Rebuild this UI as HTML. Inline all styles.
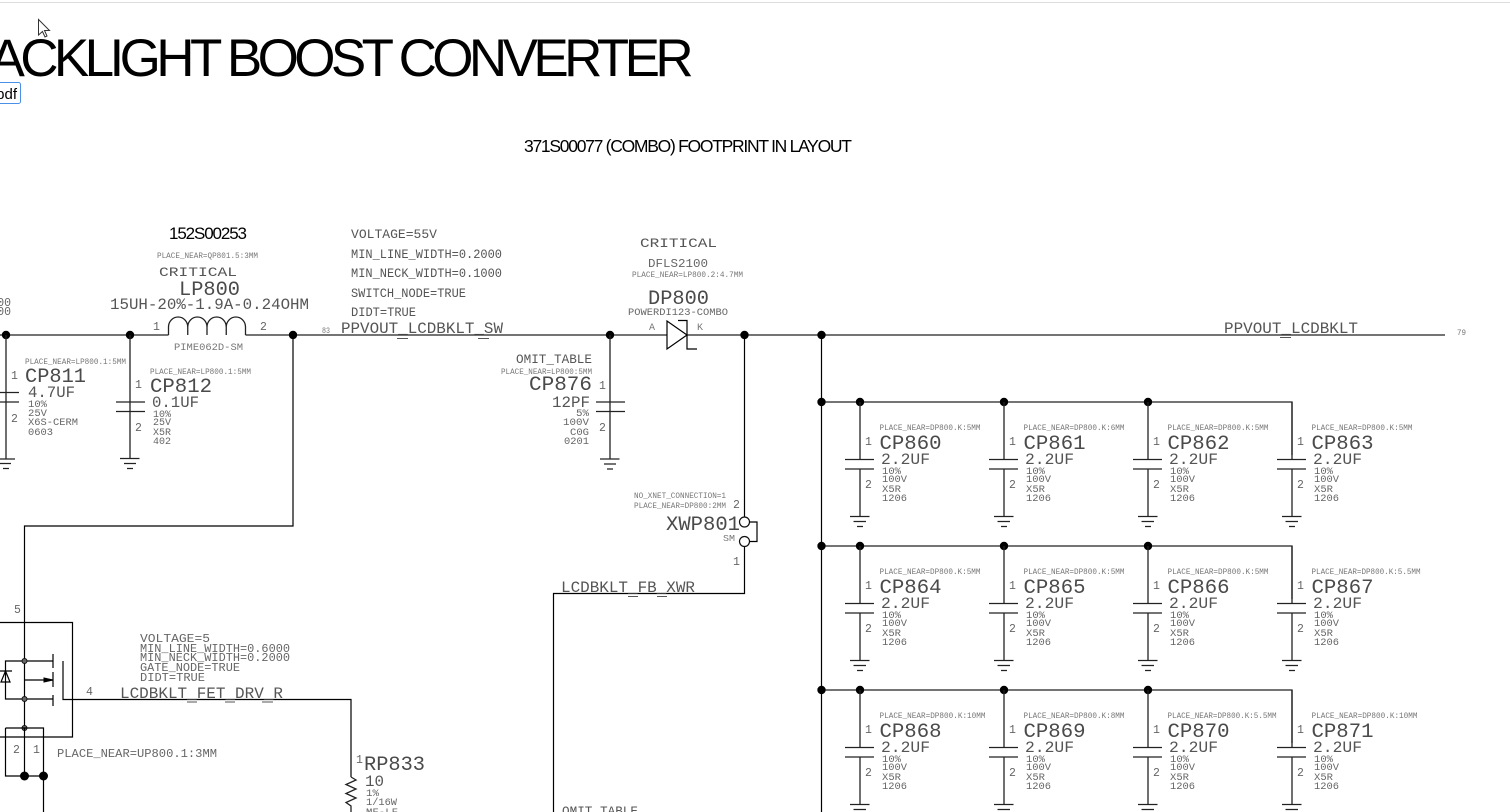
<!DOCTYPE html>
<html><head><meta charset="utf-8">
<style>
html,body{margin:0;padding:0;background:#fff;width:1510px;height:812px;overflow:hidden}
svg{display:block;position:absolute;left:0;top:0}
text{font-family:"Liberation Mono",monospace;white-space:pre}
.s{font-size:8px;fill:#777}
.t{font-size:10.5px;fill:#666}
.m{font-size:13px;fill:#555}
.v{font-size:16px;fill:#555}
.b{font-size:20.5px;fill:#4a4a4a;transform:translateY(-1px)}
.n{font-size:11.5px;fill:#666}
.h{font-family:"Liberation Sans",sans-serif;fill:#000}
.w{stroke:#222;stroke-width:1.3;fill:none}
.k{stroke:#000;stroke-width:1.2;fill:none}
.u{stroke:#555;stroke-width:1;fill:none}
</style></head><body>
<svg width="1510" height="812" viewBox="0 0 1510 812" xmlns="http://www.w3.org/2000/svg">
<defs>
<g id="c"><path class="w" d="M0 0V53M-15 57.500H14M-15 67H14M0 67V114.500M-10 114.500H9.500M-6.500 119.500H6M-3 124.500H3M0 57.500V53"/></g>
</defs>
<rect x="0" y="2" width="1510" height="1" fill="#ddd"/>
<path d="M38.500 19.500V35L42.500 31.500L45 37L47 36L44.500 30.500H49.500Z" fill="#fff" stroke="#333" stroke-width="1"/>

<text class="h" x="689" y="76" font-size="53" text-anchor="end" letter-spacing="-4.6">BACKLIGHT BOOST CONVERTER</text>
<rect x="-10" y="82.500" width="30.500" height="21" rx="2" fill="#fff" stroke="#4a90e9" stroke-width="1"/>
<text class="h" x="17" y="99" font-size="15" text-anchor="end">pdf</text>
<text class="h" x="524" y="152" font-size="17.500" textLength="328" lengthAdjust="spacing">371S00077 (COMBO) FOOTPRINT IN LAYOUT</text>
<text class="h" x="169" y="239" font-size="17" textLength="78" lengthAdjust="spacing">152S00253</text>

<!-- main net -->
<path class="w" d="M0 335H168.500M245.500 335H667M687 335H1445"/>
<path class="w" d="M168.500 335V327A9.600 10 0 0 1 187.750 327V335M187.750 327A9.600 10 0 0 1 207 327V335M207 327A9.600 10 0 0 1 226.250 327V335M226.250 327A9.600 10 0 0 1 245.500 327V335"/>
<path class="k" d="M293 335V526H24.500V728M821.500 335V812M744.500 335V517M744.500 546V593.500H553.500V812"/>
<g fill="#000"><circle cx="6" cy="335" r="4.200"/><circle cx="130" cy="335" r="4.200"/><circle cx="293" cy="335" r="4.200"/><circle cx="610" cy="335" r="4.200"/><circle cx="744.500" cy="335" r="4.200"/><circle cx="821.500" cy="335" r="4.200"/></g>
<path class="u" d="M397 338.500H408M478 338.500H489M1280 337.500H1291M187 702H197M225 702H235M262 702H273M628 596.500H638M657 596.500H667"/>

<!-- inductor labels -->
<text class="s" x="157" y="258" textLength="101" lengthAdjust="spacingAndGlyphs">PLACE_NEAR=QP801.5:3MM</text>
<text class="m" x="159" y="276" textLength="78" lengthAdjust="spacingAndGlyphs">CRITICAL</text>
<text class="b" x="179" y="296" textLength="61" lengthAdjust="spacingAndGlyphs">LP800</text>
<text class="v" x="110" y="309" textLength="199" lengthAdjust="spacingAndGlyphs">15UH-20%-1.9A-0.24OHM</text>
<text class="n" x="153" y="330">1</text><text class="n" x="260" y="330">2</text>
<text class="s" x="174" y="350" style="font-size:10px" textLength="69" lengthAdjust="spacingAndGlyphs">PIME062D-SM</text>

<text class="n" x="11" y="306" text-anchor="end">00</text>
<text class="n" x="11" y="315" text-anchor="end">00</text>

<!-- CP811 -->
<path class="w" d="M6 335V459M-10 392.500H19M-10 402H19M-4 459H15M-1 463.500H11M3 468.500H9"/>
<text class="s" x="25" y="364" textLength="101" lengthAdjust="spacingAndGlyphs">PLACE_NEAR=LP800.1:5MM</text>
<text class="n" x="11" y="379">1</text><text class="n" x="11" y="422">2</text>
<text class="b" x="25" y="383" textLength="61" lengthAdjust="spacingAndGlyphs">CP811</text>
<text class="v" x="28" y="397" textLength="47" lengthAdjust="spacingAndGlyphs">4.7UF</text>
<text class="t" x="28" y="407" textLength="19" lengthAdjust="spacingAndGlyphs">10%</text>
<text class="t" x="28" y="416" textLength="19" lengthAdjust="spacingAndGlyphs">25V</text>
<text class="t" x="28" y="425" textLength="50" lengthAdjust="spacingAndGlyphs">X6S-CERM</text>
<text class="t" x="28" y="435" textLength="25" lengthAdjust="spacingAndGlyphs">0603</text>

<!-- CP812 -->
<path class="w" d="M130 335V458.500M116 402H145M116 411.500H145M120 458.500H139.500M124 463.500H136M127 468.500H133"/>
<text class="s" x="150" y="374" textLength="101" lengthAdjust="spacingAndGlyphs">PLACE_NEAR=LP800.1:5MM</text>
<text class="n" x="135" y="388">1</text><text class="n" x="135" y="431">2</text>
<text class="b" x="150" y="393" textLength="62" lengthAdjust="spacingAndGlyphs">CP812</text>
<text class="v" x="152" y="407" textLength="47" lengthAdjust="spacingAndGlyphs">0.1UF</text>
<text class="t" x="153" y="417" textLength="18" lengthAdjust="spacingAndGlyphs">10%</text>
<text class="t" x="153" y="425" textLength="18" lengthAdjust="spacingAndGlyphs">25V</text>
<text class="t" x="153" y="435" textLength="18" lengthAdjust="spacingAndGlyphs">X5R</text>
<text class="t" x="153" y="444" textLength="18" lengthAdjust="spacingAndGlyphs">402</text>

<!-- net properties -->
<text class="m" x="351" y="238" textLength="86" lengthAdjust="spacingAndGlyphs">VOLTAGE=55V</text>
<text class="m" x="351" y="258" textLength="151" lengthAdjust="spacingAndGlyphs">MIN_LINE_WIDTH=0.2000</text>
<text class="m" x="351" y="277" textLength="151" lengthAdjust="spacingAndGlyphs">MIN_NECK_WIDTH=0.1000</text>
<text class="m" x="351" y="297" textLength="115" lengthAdjust="spacingAndGlyphs">SWITCH_NODE=TRUE</text>
<text class="m" x="351" y="316" textLength="65" lengthAdjust="spacingAndGlyphs">DIDT=TRUE</text>
<text class="s" x="322" y="333" textLength="8" lengthAdjust="spacingAndGlyphs">83</text>
<text class="v" x="341" y="333" textLength="162" lengthAdjust="spacingAndGlyphs">PPVOUT_LCDBKLT_SW</text>
<text class="v" x="1224" y="333" textLength="134" lengthAdjust="spacingAndGlyphs">PPVOUT_LCDBKLT</text>
<text class="s" x="1457" y="335" textLength="9" lengthAdjust="spacingAndGlyphs">79</text>

<!-- CP876 -->
<path class="w" d="M610 335V459M596 402H625M596 411.500H625M600 459H619.500M604 464H616M607 469H613"/>
<text class="m" x="516" y="363" textLength="76" lengthAdjust="spacingAndGlyphs">OMIT_TABLE</text>
<text class="s" x="501" y="374" textLength="91" lengthAdjust="spacingAndGlyphs">PLACE_NEAR=LP800:5MM</text>
<text class="b" x="529" y="391" textLength="63" lengthAdjust="spacingAndGlyphs">CP876</text>
<text class="v" x="552" y="407" textLength="38" lengthAdjust="spacingAndGlyphs">12PF</text>
<text class="t" x="576" y="416" textLength="13" lengthAdjust="spacingAndGlyphs">5%</text>
<text class="t" x="563" y="425" textLength="26" lengthAdjust="spacingAndGlyphs">100V</text>
<text class="t" x="570" y="435" textLength="19" lengthAdjust="spacingAndGlyphs">C0G</text>
<text class="t" x="564" y="444" textLength="25" lengthAdjust="spacingAndGlyphs">0201</text>
<text class="n" x="599" y="389">1</text><text class="n" x="599" y="431">2</text>

<!-- diode -->
<path class="k" d="M667 321V349L687 335ZM678 320.500H687V349H697"/>
<text class="m" x="640" y="247" textLength="77" lengthAdjust="spacingAndGlyphs">CRITICAL</text>
<text class="n" x="648" y="267" style="font-size:12px" textLength="60" lengthAdjust="spacingAndGlyphs">DFLS2100</text>
<text class="s" x="632" y="277" textLength="111" lengthAdjust="spacingAndGlyphs">PLACE_NEAR=LP800.2:4.7MM</text>
<text class="b" x="648" y="305" textLength="61" lengthAdjust="spacingAndGlyphs">DP800</text>
<text class="t" x="628" y="315" textLength="100" lengthAdjust="spacingAndGlyphs">POWERDI123-COMBO</text>
<text class="s" x="649" y="330" style="font-size:10px">A</text>
<text class="s" x="697" y="330" style="font-size:10px">K</text>

<!-- XWP801 -->
<circle cx="744.500" cy="522" r="5" fill="#fff" stroke="#111" stroke-width="1.2"/>
<circle cx="744.500" cy="541.500" r="5" fill="#fff" stroke="#111" stroke-width="1.2"/>
<path class="k" d="M749.500 522H757V541.500H749.500"/>
<text class="s" x="634" y="498" textLength="92" lengthAdjust="spacingAndGlyphs">NO_XNET_CONNECTION=1</text>
<text class="s" x="634" y="508" textLength="92" lengthAdjust="spacingAndGlyphs">PLACE_NEAR=DP800:2MM</text>
<text class="n" x="733" y="508">2</text>
<text class="b" x="666" y="531" textLength="74" lengthAdjust="spacingAndGlyphs">XWP801</text>
<text class="s" x="723" y="541" style="font-size:9px" textLength="12" lengthAdjust="spacingAndGlyphs">SM</text>
<text class="n" x="733" y="565">1</text>
<text class="v" x="561" y="592" textLength="134" lengthAdjust="spacingAndGlyphs">LCDBKLT_FB_XWR</text>
<text class="m" x="562" y="815" textLength="76" lengthAdjust="spacingAndGlyphs">OMIT_TABLE</text>

<!-- FET -->
<text class="n" x="14" y="613">5</text>
<path class="k" d="M0 622.500H72.500V737H0"/>
<path class="k" d="M53 661H5.500V699H53M53 654V668M53 672V687M53 695V706M63 661V699.500H351V777M53 680H24.500M1 682H10L5.500 671ZM-3 671H12M5.500 661V671M5.500 682V699"/>
<path d="M44 678L53 680L44 682Z" fill="#000" stroke="#000"/>
<g fill="#666" stroke="#111"><circle cx="24.500" cy="661" r="2.500"/><circle cx="24.500" cy="699" r="2.500"/><circle cx="24.500" cy="728" r="2.500"/></g>
<path class="k" d="M5.500 728H43.500V812M5.500 728V776H43.500M24.500 728V776"/>
<circle cx="24.500" cy="776" r="4.500" fill="#000"/><circle cx="43.500" cy="776" r="4.500" fill="#000"/>
<text class="n" x="13" y="753">2</text><text class="n" x="33" y="753">1</text>
<text class="n" x="86" y="695">4</text>
<text class="n" x="57" y="757" style="font-size:12px" textLength="160" lengthAdjust="spacingAndGlyphs">PLACE_NEAR=UP800.1:3MM</text>
<text class="n" x="140" y="642" style="font-size:12px" textLength="70" lengthAdjust="spacingAndGlyphs">VOLTAGE=5</text>
<text class="n" x="140" y="652" style="font-size:12px" textLength="150" lengthAdjust="spacingAndGlyphs">MIN_LINE_WIDTH=0.6000</text>
<text class="n" x="140" y="661" style="font-size:12px" textLength="150" lengthAdjust="spacingAndGlyphs">MIN_NECK_WIDTH=0.2000</text>
<text class="n" x="140" y="671" style="font-size:12px" textLength="100" lengthAdjust="spacingAndGlyphs">GATE_NODE=TRUE</text>
<text class="n" x="140" y="681" style="font-size:12px" textLength="65" lengthAdjust="spacingAndGlyphs">DIDT=TRUE</text>
<text class="v" x="120" y="698" textLength="163" lengthAdjust="spacingAndGlyphs">LCDBKLT_FET_DRV_R</text>

<!-- RP833 -->
<path class="w" d="M351 777L356 780L346 784.500L356 789L346 793.500L356 798L346 802.500L351 806V812"/>
<text class="n" x="356" y="763">1</text>
<text class="b" x="364" y="771" textLength="61" lengthAdjust="spacingAndGlyphs">RP833</text>
<text class="v" x="365" y="786" textLength="19" lengthAdjust="spacingAndGlyphs">10</text>
<text class="t" x="366" y="796" textLength="13" lengthAdjust="spacingAndGlyphs">1%</text>
<text class="t" x="366" y="805" textLength="31" lengthAdjust="spacingAndGlyphs">1/16W</text>
<text class="t" x="366" y="815" textLength="32" lengthAdjust="spacingAndGlyphs">MF-LF</text>

<!-- capacitor bank wires -->
<path class="w" d="M821.500 402H1292V455M821.500 546H1292V599M821.500 690H1292V743"/>
<g fill="#000">
<circle cx="821.500" cy="402" r="4.200"/><circle cx="860" cy="402" r="4.200"/><circle cx="1004" cy="402" r="4.200"/><circle cx="1148" cy="402" r="4.200"/>
<circle cx="821.500" cy="546" r="4.200"/><circle cx="860" cy="546" r="4.200"/><circle cx="1004" cy="546" r="4.200"/><circle cx="1148" cy="546" r="4.200"/>
<circle cx="821.500" cy="690" r="4.200"/><circle cx="860" cy="690" r="4.200"/><circle cx="1004" cy="690" r="4.200"/><circle cx="1148" cy="690" r="4.200"/>
</g>

<g transform="translate(860,402)"><use href="#c"/><text class="n" x="5" y="43">1</text><text class="n" x="5" y="86">2</text><text class="s" x="19.500" y="28" textLength="101" lengthAdjust="spacingAndGlyphs">PLACE_NEAR=DP800.K:5MM</text><text class="b" x="19.500" y="48" textLength="62" lengthAdjust="spacingAndGlyphs">CP860</text><text class="v" x="21" y="62" textLength="49" lengthAdjust="spacingAndGlyphs">2.2UF</text><text class="t" x="22" y="72" textLength="19" lengthAdjust="spacingAndGlyphs">10%</text><text class="t" x="22" y="80" textLength="25" lengthAdjust="spacingAndGlyphs">100V</text><text class="t" x="22" y="90" textLength="19" lengthAdjust="spacingAndGlyphs">X5R</text><text class="t" x="22" y="99" textLength="25" lengthAdjust="spacingAndGlyphs">1206</text></g>
<g transform="translate(1004,402)"><use href="#c"/><text class="n" x="5" y="43">1</text><text class="n" x="5" y="86">2</text><text class="s" x="19.500" y="28" textLength="101" lengthAdjust="spacingAndGlyphs">PLACE_NEAR=DP800.K:6MM</text><text class="b" x="19.500" y="48" textLength="62" lengthAdjust="spacingAndGlyphs">CP861</text><text class="v" x="21" y="62" textLength="49" lengthAdjust="spacingAndGlyphs">2.2UF</text><text class="t" x="22" y="72" textLength="19" lengthAdjust="spacingAndGlyphs">10%</text><text class="t" x="22" y="80" textLength="25" lengthAdjust="spacingAndGlyphs">100V</text><text class="t" x="22" y="90" textLength="19" lengthAdjust="spacingAndGlyphs">X5R</text><text class="t" x="22" y="99" textLength="25" lengthAdjust="spacingAndGlyphs">1206</text></g>
<g transform="translate(1148,402)"><use href="#c"/><text class="n" x="5" y="43">1</text><text class="n" x="5" y="86">2</text><text class="s" x="19.500" y="28" textLength="101" lengthAdjust="spacingAndGlyphs">PLACE_NEAR=DP800.K:5MM</text><text class="b" x="19.500" y="48" textLength="62" lengthAdjust="spacingAndGlyphs">CP862</text><text class="v" x="21" y="62" textLength="49" lengthAdjust="spacingAndGlyphs">2.2UF</text><text class="t" x="22" y="72" textLength="19" lengthAdjust="spacingAndGlyphs">10%</text><text class="t" x="22" y="80" textLength="25" lengthAdjust="spacingAndGlyphs">100V</text><text class="t" x="22" y="90" textLength="19" lengthAdjust="spacingAndGlyphs">X5R</text><text class="t" x="22" y="99" textLength="25" lengthAdjust="spacingAndGlyphs">1206</text></g>
<g transform="translate(1292,402)"><use href="#c"/><text class="n" x="5" y="43">1</text><text class="n" x="5" y="86">2</text><text class="s" x="19.500" y="28" textLength="101" lengthAdjust="spacingAndGlyphs">PLACE_NEAR=DP800.K:5MM</text><text class="b" x="19.500" y="48" textLength="62" lengthAdjust="spacingAndGlyphs">CP863</text><text class="v" x="21" y="62" textLength="49" lengthAdjust="spacingAndGlyphs">2.2UF</text><text class="t" x="22" y="72" textLength="19" lengthAdjust="spacingAndGlyphs">10%</text><text class="t" x="22" y="80" textLength="25" lengthAdjust="spacingAndGlyphs">100V</text><text class="t" x="22" y="90" textLength="19" lengthAdjust="spacingAndGlyphs">X5R</text><text class="t" x="22" y="99" textLength="25" lengthAdjust="spacingAndGlyphs">1206</text></g>

<g transform="translate(860,546)"><use href="#c"/><text class="n" x="5" y="43">1</text><text class="n" x="5" y="86">2</text><text class="s" x="19.500" y="28" textLength="101" lengthAdjust="spacingAndGlyphs">PLACE_NEAR=DP800.K:5MM</text><text class="b" x="19.500" y="48" textLength="62" lengthAdjust="spacingAndGlyphs">CP864</text><text class="v" x="21" y="62" textLength="49" lengthAdjust="spacingAndGlyphs">2.2UF</text><text class="t" x="22" y="72" textLength="19" lengthAdjust="spacingAndGlyphs">10%</text><text class="t" x="22" y="80" textLength="25" lengthAdjust="spacingAndGlyphs">100V</text><text class="t" x="22" y="90" textLength="19" lengthAdjust="spacingAndGlyphs">X5R</text><text class="t" x="22" y="99" textLength="25" lengthAdjust="spacingAndGlyphs">1206</text></g>
<g transform="translate(1004,546)"><use href="#c"/><text class="n" x="5" y="43">1</text><text class="n" x="5" y="86">2</text><text class="s" x="19.500" y="28" textLength="101" lengthAdjust="spacingAndGlyphs">PLACE_NEAR=DP800.K:5MM</text><text class="b" x="19.500" y="48" textLength="62" lengthAdjust="spacingAndGlyphs">CP865</text><text class="v" x="21" y="62" textLength="49" lengthAdjust="spacingAndGlyphs">2.2UF</text><text class="t" x="22" y="72" textLength="19" lengthAdjust="spacingAndGlyphs">10%</text><text class="t" x="22" y="80" textLength="25" lengthAdjust="spacingAndGlyphs">100V</text><text class="t" x="22" y="90" textLength="19" lengthAdjust="spacingAndGlyphs">X5R</text><text class="t" x="22" y="99" textLength="25" lengthAdjust="spacingAndGlyphs">1206</text></g>
<g transform="translate(1148,546)"><use href="#c"/><text class="n" x="5" y="43">1</text><text class="n" x="5" y="86">2</text><text class="s" x="19.500" y="28" textLength="101" lengthAdjust="spacingAndGlyphs">PLACE_NEAR=DP800.K:5MM</text><text class="b" x="19.500" y="48" textLength="62" lengthAdjust="spacingAndGlyphs">CP866</text><text class="v" x="21" y="62" textLength="49" lengthAdjust="spacingAndGlyphs">2.2UF</text><text class="t" x="22" y="72" textLength="19" lengthAdjust="spacingAndGlyphs">10%</text><text class="t" x="22" y="80" textLength="25" lengthAdjust="spacingAndGlyphs">100V</text><text class="t" x="22" y="90" textLength="19" lengthAdjust="spacingAndGlyphs">X5R</text><text class="t" x="22" y="99" textLength="25" lengthAdjust="spacingAndGlyphs">1206</text></g>
<g transform="translate(1292,546)"><use href="#c"/><text class="n" x="5" y="43">1</text><text class="n" x="5" y="86">2</text><text class="s" x="19.500" y="28" textLength="109" lengthAdjust="spacingAndGlyphs">PLACE_NEAR=DP800.K:5.5MM</text><text class="b" x="19.500" y="48" textLength="62" lengthAdjust="spacingAndGlyphs">CP867</text><text class="v" x="21" y="62" textLength="49" lengthAdjust="spacingAndGlyphs">2.2UF</text><text class="t" x="22" y="72" textLength="19" lengthAdjust="spacingAndGlyphs">10%</text><text class="t" x="22" y="80" textLength="25" lengthAdjust="spacingAndGlyphs">100V</text><text class="t" x="22" y="90" textLength="19" lengthAdjust="spacingAndGlyphs">X5R</text><text class="t" x="22" y="99" textLength="25" lengthAdjust="spacingAndGlyphs">1206</text></g>

<g transform="translate(860,690)"><use href="#c"/><text class="n" x="5" y="43">1</text><text class="n" x="5" y="86">2</text><text class="s" x="19.500" y="28" textLength="106" lengthAdjust="spacingAndGlyphs">PLACE_NEAR=DP800.K:10MM</text><text class="b" x="19.500" y="48" textLength="62" lengthAdjust="spacingAndGlyphs">CP868</text><text class="v" x="21" y="62" textLength="49" lengthAdjust="spacingAndGlyphs">2.2UF</text><text class="t" x="22" y="72" textLength="19" lengthAdjust="spacingAndGlyphs">10%</text><text class="t" x="22" y="80" textLength="25" lengthAdjust="spacingAndGlyphs">100V</text><text class="t" x="22" y="90" textLength="19" lengthAdjust="spacingAndGlyphs">X5R</text><text class="t" x="22" y="99" textLength="25" lengthAdjust="spacingAndGlyphs">1206</text></g>
<g transform="translate(1004,690)"><use href="#c"/><text class="n" x="5" y="43">1</text><text class="n" x="5" y="86">2</text><text class="s" x="19.500" y="28" textLength="101" lengthAdjust="spacingAndGlyphs">PLACE_NEAR=DP800.K:8MM</text><text class="b" x="19.500" y="48" textLength="62" lengthAdjust="spacingAndGlyphs">CP869</text><text class="v" x="21" y="62" textLength="49" lengthAdjust="spacingAndGlyphs">2.2UF</text><text class="t" x="22" y="72" textLength="19" lengthAdjust="spacingAndGlyphs">10%</text><text class="t" x="22" y="80" textLength="25" lengthAdjust="spacingAndGlyphs">100V</text><text class="t" x="22" y="90" textLength="19" lengthAdjust="spacingAndGlyphs">X5R</text><text class="t" x="22" y="99" textLength="25" lengthAdjust="spacingAndGlyphs">1206</text></g>
<g transform="translate(1148,690)"><use href="#c"/><text class="n" x="5" y="43">1</text><text class="n" x="5" y="86">2</text><text class="s" x="19.500" y="28" textLength="109" lengthAdjust="spacingAndGlyphs">PLACE_NEAR=DP800.K:5.5MM</text><text class="b" x="19.500" y="48" textLength="62" lengthAdjust="spacingAndGlyphs">CP870</text><text class="v" x="21" y="62" textLength="49" lengthAdjust="spacingAndGlyphs">2.2UF</text><text class="t" x="22" y="72" textLength="19" lengthAdjust="spacingAndGlyphs">10%</text><text class="t" x="22" y="80" textLength="25" lengthAdjust="spacingAndGlyphs">100V</text><text class="t" x="22" y="90" textLength="19" lengthAdjust="spacingAndGlyphs">X5R</text><text class="t" x="22" y="99" textLength="25" lengthAdjust="spacingAndGlyphs">1206</text></g>
<g transform="translate(1292,690)"><use href="#c"/><text class="n" x="5" y="43">1</text><text class="n" x="5" y="86">2</text><text class="s" x="19.500" y="28" textLength="106" lengthAdjust="spacingAndGlyphs">PLACE_NEAR=DP800.K:10MM</text><text class="b" x="19.500" y="48" textLength="62" lengthAdjust="spacingAndGlyphs">CP871</text><text class="v" x="21" y="62" textLength="49" lengthAdjust="spacingAndGlyphs">2.2UF</text><text class="t" x="22" y="72" textLength="19" lengthAdjust="spacingAndGlyphs">10%</text><text class="t" x="22" y="80" textLength="25" lengthAdjust="spacingAndGlyphs">100V</text><text class="t" x="22" y="90" textLength="19" lengthAdjust="spacingAndGlyphs">X5R</text><text class="t" x="22" y="99" textLength="25" lengthAdjust="spacingAndGlyphs">1206</text></g>
</svg>
</body></html>
